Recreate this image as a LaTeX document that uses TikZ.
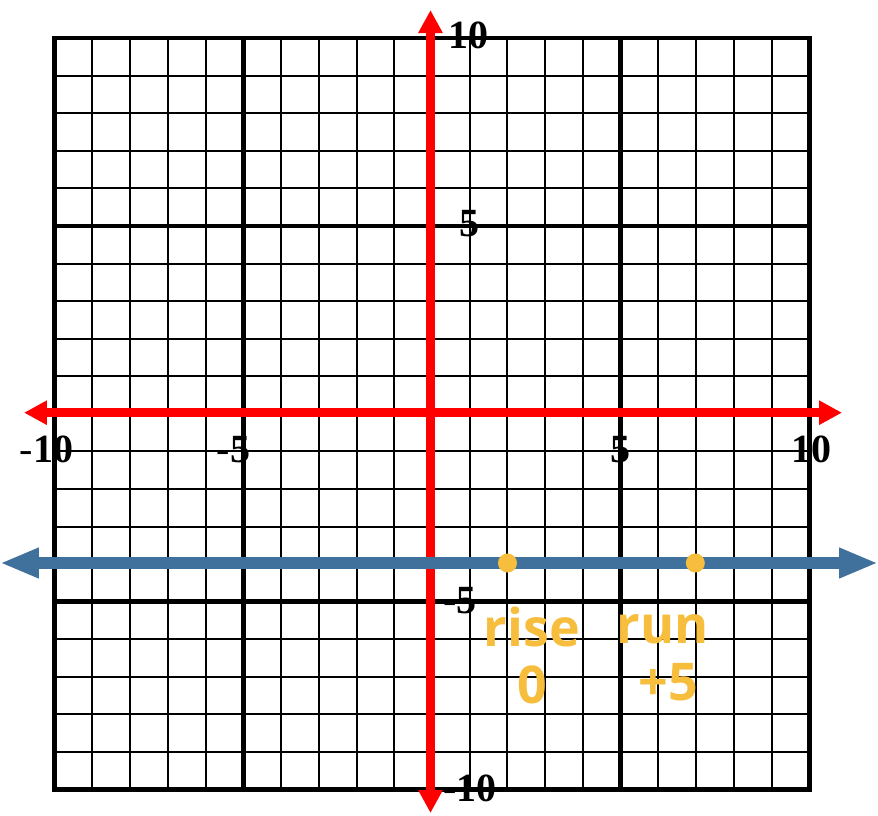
\documentclass[tikz,border=0pt]{standalone}
\usepackage{fontspec}
\setmainfont{Liberation Serif}
\newfontfamily\handfont{Open Sans}
\usetikzlibrary{arrows.meta}
\definecolor{axisred}{RGB}{255,0,0}
\definecolor{lineblue}{RGB}{64,112,156}
\definecolor{markorange}{RGB}{247,190,62}
\newcommand\axminus{{\mdseries -}}
\begin{document}
\begin{tikzpicture}[x=37.725pt,y=37.575pt,
  thingrid/.style={line width=2pt, black},
  thickgrid/.style={line width=4.5pt, black, line cap=rect},
  axisline/.style={line width=8.5pt, axisred, {Triangle[length=23pt,width=23pt]}-{Triangle[length=23pt,width=23pt]}},
  bluearrow/.style={line width=12pt, lineblue, {Triangle[length=39pt,width=28pt]}-{Triangle[length=39pt,width=28pt]}},
  dotmark/.style={circle, fill=markorange, minimum size=19pt, inner sep=0pt},
  numlabel/.style={inner sep=0pt, font=\fontsize{40}{40}\selectfont\bfseries},
  handlabel/.style={inner sep=0pt, anchor=base, text=markorange, font=\handfont\fontsize{52}{52}\selectfont\bfseries}]
\useasboundingbox (-11.451,-10.677) rectangle (11.822,11.013);
\fill[white] (-11.451,-10.677) rectangle (11.822,11.013);
% thin grid
\foreach \i in {-9,-8,-7,-6,-4,-3,-2,-1,0,1,2,3,4,6,7,8,9} {
  \draw[thingrid] (\i,-10) -- (\i,10);
  \draw[thingrid] (-10,\i) -- (10,\i);
}
% thick grid
\foreach \i in {-10,-5,5,10} {
  \draw[thickgrid] (\i,-10) -- (\i,10);
  \draw[thickgrid] (-10,\i) -- (10,\i);
}
% labels
\node[numlabel] (ly10) at (0.97,10.08) {10};
\node[numlabel] (ly5) at (1.0,5.07) {5};
\node[numlabel] (lym5) at (0.74,-4.96) {\axminus5};
\node[numlabel] (lym10) at (1.0,-9.97) {\axminus10};
\node[numlabel] (lxm10) at (-10.22,-0.94) {\axminus10};
\node[numlabel] (lxm5) at (-5.26,-0.94) {\axminus5};
\node[numlabel] (lx5) at (5.0,-0.94) {5};
\node[numlabel] (lx10) at (10.05,-0.94) {10};
% axes
\coordinate (ytop) at (-0.04,10.746);
\coordinate (ybot) at (-0.04,-10.624);
\coordinate (xleft) at (-10.815,0.03);
\coordinate (xright) at (10.868,0.03);
\draw[axisline] (xleft) -- (xright);
\draw[axisline] (ybot) -- (ytop);
% blue line
\coordinate (bleft) at (-11.451,-3.97);
\coordinate (bright) at (11.822,-3.97);
\draw[bluearrow] (bleft) -- (bright);
% points
\node[dotmark] (p1) at (2,-3.97) {};
\node[dotmark] (p2) at (6.98,-3.97) {};
% handwritten notes
\node[handlabel] (rise) at (2.65,-6.18) {rise};
\node[handlabel] (run) at (6.11,-6.10) {run};
\node[handlabel] (rise0) at (2.65,-7.70) {0};
\node[handlabel] (run5) at (6.26,-7.62) {+5};
\end{tikzpicture}
\end{document}
